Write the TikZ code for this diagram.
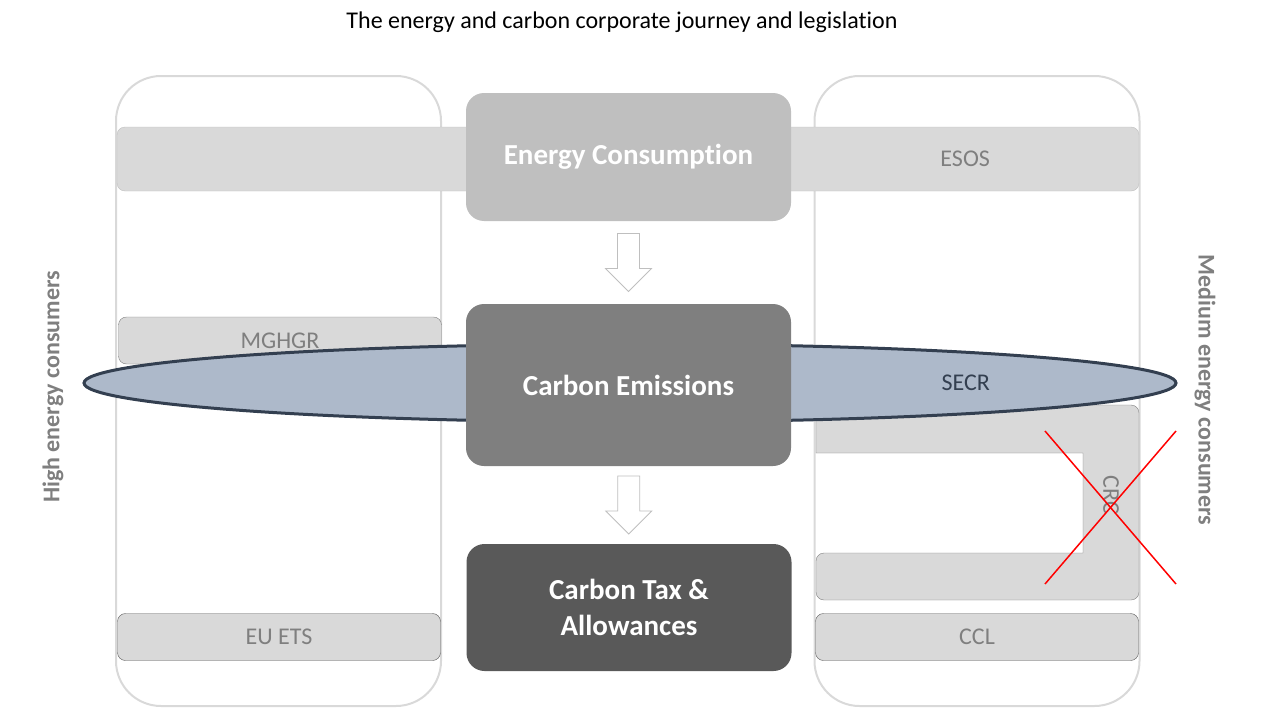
\documentclass[tikz,border=0pt]{standalone}
\usepackage{fontspec}
\setmainfont{Carlito}[Ligatures=NoCommon]
\usepackage{tikz}
\usetikzlibrary{positioning,calc,shapes.geometric}

\definecolor{lgray}{HTML}{D9D9D9}
\definecolor{mgray}{HTML}{BFBFBF}
\definecolor{dgray}{HTML}{7F7F7F}
\definecolor{vgray}{HTML}{595959}
\definecolor{secrfill}{HTML}{ADB9CA}
\definecolor{secrline}{HTML}{333F50}

\begin{document}
\begin{tikzpicture}[
  x=1pt, y=-1pt,
  column/.style={draw=lgray, line width=2pt, rounded corners=45pt, minimum width=325pt, minimum height=630pt},
  bar/.style={draw=mgray, fill=lgray, rounded corners=8pt, inner sep=0pt},
  leg/.style={draw=vgray, fill=lgray, rounded corners=8pt, minimum width=323pt, minimum height=47pt, text=dgray, font=\fontsize{24}{29}\selectfont},
  stage/.style={rounded corners=18pt, minimum width=325pt, text=white, align=center, font=\bfseries\fontsize{29}{36}\selectfont},
  down/.style={draw=mgray, fill=white, line width=0.8pt},
  lab/.style={text=dgray, font=\fontsize{24}{29}\selectfont},
  side/.style={text=dgray, font=\bfseries\fontsize{24}{29}\selectfont}
]
\useasboundingbox (0,0) rectangle (1280,720);

% --- Title -------------------------------------------------------------------
\node[font=\fontsize{24}{29}\selectfont] (title) at (622,22) {The energy and carbon corporate journey and legislation};

% --- Consumer columns --------------------------------------------------------
\node[column] (lcol) at (278.5,391) {};
\node[column] (rcol) at (977,391) {};

% --- ESOS bar (behind energy consumption) ------------------------------------
\node[bar, minimum width=1022pt, minimum height=64pt] (esosbar) at (628,159) {};

% --- Left legislation --------------------------------------------------------
\node[leg, draw=dgray] (mghgr) at (280,340.5) {MGHGR};
\node[leg] (euets) at (279,637) {EU ETS};

% --- CRC bracket (struck out) ------------------------------------------------
\draw[draw=dgray, fill=lgray] (1083,453) -- (816,453)
  [rounded corners=8pt] -- (816,405) -- (1139,405) -- (1139,600) -- (816,600) -- (816,553)
  [sharp corners] -- (1083,553) -- cycle;

% --- SECR ellipse ------------------------------------------------------------
\node[ellipse, draw=secrline, line width=3pt, fill=secrfill, minimum width=1092pt, minimum height=78pt] (secr) at (630,383) {};

% --- Journey stages ----------------------------------------------------------
\node[stage, fill=mgray, minimum height=128pt] (ec) at (628.5,157) {Energy Consumption};
\node[stage, fill=dgray, minimum height=162pt] (ce) at (628.5,385) {Carbon Emissions};
\node[stage, fill=vgray, minimum height=127pt] (ct) at (629,607.5) {Carbon Tax \&\\Allowances};

\coordinate (a1) at ($(ec.south)!0.5!(ce.north)$);
\coordinate (a2) at ($(ce.south)!0.5!(ct.north)$);
\draw[down] (a1) ++(-11,-29) -- ++(22,0) -- ++(0,35) -- ++(12,0) -- ++(-23,23) -- ++(-23,-23) -- ++(12,0) -- cycle;
\draw[down] (a2) ++(-11,-29) -- ++(22,0) -- ++(0,35) -- ++(12,0) -- ++(-23,23) -- ++(-23,-23) -- ++(12,0) -- cycle;

% --- Right legislation -------------------------------------------------------
\node[lab] (esos) at ($(ec.east |- esosbar)!0.5!(esosbar.east)$) {ESOS};
\node[lab, text=secrline] (secrtxt) at ($(ce.east |- secr)!0.5!(rcol.east |- secr)$) {SECR};
\node[lab, rotate=-90] (crc) at (1111,495) {CRC};
\node[leg] (ccl) at (977,637) {CCL};

\draw[red, line width=1.5pt] (1045,431) -- (1176,584);
\draw[red, line width=1.5pt] (1045,584) -- (1176,431);

% --- Side labels -------------------------------------------------------------
\node[side, rotate=90] (high) at (53,387) {High energy consumers};
\node[side, rotate=-90] (medium) at (1205,390) {Medium energy consumers};

\end{tikzpicture}
\end{document}
